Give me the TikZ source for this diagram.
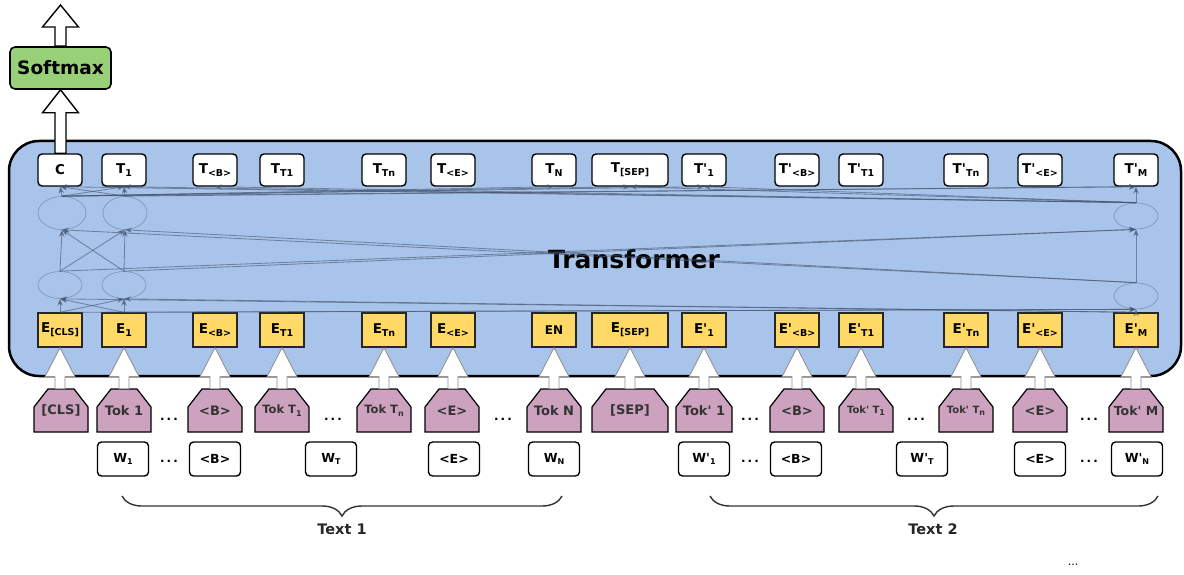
\documentclass[tikz,border=0pt]{standalone}
\usepackage{fontspec}
\setmainfont{DejaVu Sans}
\usetikzlibrary{calc,arrows.meta,decorations.pathreplacing,shapes.geometric}
\definecolor{tfblue}{HTML}{A9C4EB}
\definecolor{smgreen}{HTML}{97D077}
\definecolor{embyellow}{HTML}{FFD966}
\definecolor{tokpink}{HTML}{CDA2BE}
\definecolor{attc}{HTML}{44546F}
\definecolor{ellc}{HTML}{8496B4}
\newcommand\lsub[1]{\raisebox{-0.4ex}{\fontsize{9.5}{10}\selectfont #1}}
\newcommand\tsub[1]{\raisebox{-0.4ex}{\fontsize{8}{9}\selectfont #1}}
\newcommand\pr{\textquotesingle}
% block arrow: #1 start point, #2 tip point, #3 head length, #4 head half width, #5 shaft half width, #6 style
\newcommand\barrow[6]{%
  \draw[#6] let \p1=#1, \p2=#2 in
    (\x2-#5,\y1) -- (\x2-#5,\y2-#3) -- (\x2-#4,\y2-#3) -- (\x2,\y2) --
    (\x2+#4,\y2-#3) -- (\x2+#5,\y2-#3) -- (\x2+#5,\y1) -- cycle;}
% token pentagon: #1 name, #2 x, #3 half width, #4 label, #5 font
\newcommand\tok[5]{%
  \filldraw[tokshape] (#2-#3,432) -- (#2-#3,407) -- (#2-#3+14,389) -- (#2+#3-14,389)
    -- (#2+#3,407) -- (#2+#3,432) -- cycle;
  \node[toklabel,minimum width=2*#3 pt,font=#5] (#1) at (#2,410.5) {#4};}
\begin{document}
\begin{tikzpicture}[x=1pt,y=-1pt,
  tbox/.style={draw=black,line width=1.4pt,fill=white,rounded corners=4pt,
    minimum width=44pt,minimum height=32pt,inner sep=0pt,
    font=\bfseries\fontsize{13.5}{15}\selectfont},
  ebox/.style={draw=black!85,line width=1.4pt,fill=embyellow,
    minimum width=44pt,minimum height=34pt,inner sep=0pt,
    font=\bfseries\fontsize{13.5}{15}\selectfont},
  wbox/.style={draw=black,line width=1.4pt,fill=white,rounded corners=4pt,
    minimum width=51pt,minimum height=34pt,inner sep=0pt,
    font=\bfseries\fontsize{12.5}{14}\selectfont},
  tokshape/.style={draw=black,line width=1.2pt,fill=tokpink,line join=miter},
  toklabel/.style={minimum height=43pt,inner sep=0pt,text=black!80},
  ell/.style={ellipse,draw=ellc,line width=0.7pt,inner sep=0pt},
  att/.style={draw=attc,opacity=0.6,line width=0.85pt,-{Stealth[length=7pt,width=5.5pt]}},
  whitearrow/.style={fill=white,draw=black!45,line width=0.8pt,line join=miter},
  bigarrow/.style={fill=white,draw=black,line width=1.4pt,line join=miter},
  dots/.style={font=\bfseries\fontsize{12}{14}\selectfont,inner sep=0pt},
  bracestyle/.style={draw=black!80,line width=1.4pt,decorate,
    decoration={brace,mirror,amplitude=20pt}},
  textlbl/.style={font=\bfseries\fontsize{14.5}{16}\selectfont,text=black!85}
]
\useasboundingbox (0,0) rectangle (1184,575);

% transformer container
\draw[line width=2.5pt,fill=tfblue,rounded corners=30pt] (9,141) rectangle (1181,376);
\node[font=\bfseries\fontsize{25}{28}\selectfont] (trf) at (634,259) {Transformer};

% softmax
\node[draw=black,line width=1.6pt,fill=smgreen,rounded corners=5pt,
  minimum width=101pt,minimum height=42pt,inner sep=0pt,
  font=\bfseries\fontsize{18.5}{20}\selectfont] (Sm) at (60.5,68) {Softmax};
\coordinate (out) at (60.5,5);

% ellipses (attention units)
\node[ell,minimum width=44pt,minimum height=27pt] (Lo1) at (60,285) {};
\node[ell,minimum width=44pt,minimum height=27pt] (Lo2) at (124,285) {};
\node[ell,minimum width=44pt,minimum height=26pt] (Lo14) at (1136,296) {};
\node[ell,minimum width=48pt,minimum height=33pt] (Up1) at (62,213) {};
\node[ell,minimum width=44pt,minimum height=33pt] (Up2) at (125,213) {};
\node[ell,minimum width=44pt,minimum height=26pt] (Up14) at (1136,216) {};

% output boxes
\node[tbox] (T1) at (60,170) {C};
\node[tbox] (T2) at (124,170) {T\lsub{1}};
\node[tbox] (T3) at (215,170) {T\lsub{<B>}};
\node[tbox] (T4) at (282,170) {T\lsub{T1}};
\node[tbox] (T5) at (384,170) {T\lsub{Tn}};
\node[tbox] (T6) at (453,170) {T\lsub{<E>}};
\node[tbox] (T7) at (554,170) {T\lsub{N}};
\node[tbox,minimum width=76pt] (T8) at (630,170) {T\lsub{[SEP]}};
\node[tbox] (T9) at (704,170) {T\pr\lsub{1}};
\node[tbox] (T10) at (797,170) {T\pr\lsub{<B>}};
\node[tbox] (T11) at (861,170) {T\pr\lsub{T1}};
\node[tbox] (T12) at (966,170) {T\pr\lsub{Tn}};
\node[tbox] (T13) at (1040,170) {T\pr\lsub{<E>}};
\node[tbox] (T14) at (1136,170) {T\pr\lsub{M}};

% embedding boxes
\node[ebox] (E1) at (60,330) {E\lsub{[CLS]}};
\node[ebox] (E2) at (124,330) {E\lsub{1}};
\node[ebox] (E3) at (215,330) {E\lsub{<B>}};
\node[ebox] (E4) at (282,330) {E\lsub{T1}};
\node[ebox] (E5) at (384,330) {E\lsub{Tn}};
\node[ebox] (E6) at (453,330) {E\lsub{<E>}};
\node[ebox,font=\bfseries\fontsize{12}{13}\selectfont] (E7) at (554,330) {EN};
\node[ebox,minimum width=76pt] (E8) at (630,330) {E\lsub{[SEP]}};
\node[ebox] (E9) at (704,330) {E\pr\lsub{1}};
\node[ebox] (E10) at (797,330) {E\pr\lsub{<B>}};
\node[ebox] (E11) at (861,330) {E\pr\lsub{T1}};
\node[ebox] (E12) at (966,330) {E\pr\lsub{Tn}};
\node[ebox] (E13) at (1040,330) {E\pr\lsub{<E>}};
\node[ebox] (E14) at (1136,330) {E\pr\lsub{M}};

% attention connections
\foreach \s in {1,2,14}{
  \foreach \t in {1,2,14}{
    \draw[att] (E\s.north) -- (Lo\t.south);
    \draw[att] (Lo\s.north) -- (Up\t.south);
    \draw[att] (Up\s.north) -- (T\t.south);
  }}
\foreach \t in {7,8,9}{\draw[att] (Up1.north) -- (T\t.south);}
\foreach \t in {3,8,9}{\draw[att] (Up14.north) -- (T\t.south);}

% tokens
\tok{K1}{61}{27}{[CLS]}{\bfseries\fontsize{13}{14}\selectfont}
\tok{K2}{124}{27}{Tok 1}{\bfseries\fontsize{13}{14}\selectfont}
\tok{K3}{215}{27}{<B>}{\bfseries\fontsize{13}{14}\selectfont}
\tok{K4}{282}{27}{Tok T\tsub{1}}{\bfseries\fontsize{11.5}{13}\selectfont}
\tok{K5}{384}{27}{Tok T\tsub{n}}{\bfseries\fontsize{11.5}{13}\selectfont}
\tok{K6}{452}{27}{<E>}{\bfseries\fontsize{13}{14}\selectfont}
\tok{K7}{554}{27}{Tok N}{\bfseries\fontsize{13}{14}\selectfont}
\tok{K8}{630}{38}{[SEP]}{\bfseries\fontsize{13}{14}\selectfont}
\tok{K9}{704}{28}{Tok\pr{} 1}{\bfseries\fontsize{13}{14}\selectfont}
\tok{K10}{797}{27}{<B>}{\bfseries\fontsize{13}{14}\selectfont}
\tok{K11}{866}{27}{Tok\pr{} T\tsub{1}}{\bfseries\fontsize{10}{11}\selectfont}
\tok{K12}{966}{27}{Tok\pr{} T\tsub{n}}{\bfseries\fontsize{10}{11}\selectfont}
\tok{K13}{1040}{27}{<E>}{\bfseries\fontsize{13}{14}\selectfont}
\tok{K14}{1136}{27}{Tok\pr{} M}{\bfseries\fontsize{12.5}{14}\selectfont}

% block arrows token -> embedding
\foreach \i in {1,...,14}{
  \barrow{(K\i.north)}{(E\i.south)}{29pt}{15pt}{5pt}{whitearrow}}

% big arrows C -> softmax -> out
\barrow{(T1.north)}{(Sm.south)}{23pt}{18pt}{5.5pt}{bigarrow}
\barrow{(Sm.north)}{(out)}{22pt}{18pt}{5.5pt}{bigarrow}

% words
\node[wbox] (W1) at (123,459) {W\tsub{1}};
\node[wbox] (W2) at (215,459) {<B>};
\node[wbox] (W3) at (331,459) {W\tsub{T}};
\node[wbox] (W4) at (454,459) {<E>};
\node[wbox] (W5) at (554,459) {W\tsub{N}};
\node[wbox] (W6) at (704,459) {W\pr\tsub{1}};
\node[wbox] (W7) at (796,459) {<B>};
\node[wbox] (W8) at (922,459) {W\pr\tsub{T}};
\node[wbox] (W9) at (1040,459) {<E>};
\node[wbox] (W10) at (1137,459) {W\pr\tsub{N}};

% dots
\node[dots] (d1) at (169,419) {.\,.\,.};
\node[dots] (d2) at (333,419) {.\,.\,.};
\node[dots] (d3) at (503,419) {.\,.\,.};
\node[dots] (d4) at (750,419) {.\,.\,.};
\node[dots] (d5) at (916,419) {.\,.\,.};
\node[dots] (d6) at (1089,419) {.\,.\,.};
\node[dots] (d7) at (169,461) {.\,.\,.};
\node[dots] (d8) at (750,461) {.\,.\,.};
\node[dots] (d9) at (1089,461) {.\,.\,.};

% braces
\coordinate (b1s) at (122,496);
\coordinate (b1e) at (562,496);
\coordinate (b2s) at (710,496);
\coordinate (b2e) at (1158,496);
\draw[bracestyle] (b1s) -- (b1e);
\draw[bracestyle] (b2s) -- (b2e);
\node[textlbl] (tx1) at (342,529) {Text 1};
\node[textlbl] (tx2) at (933,529) {Text 2};
\node[font=\fontsize{11}{12}\selectfont] (dend) at (1073,565) {...};
\end{tikzpicture}
\end{document}
